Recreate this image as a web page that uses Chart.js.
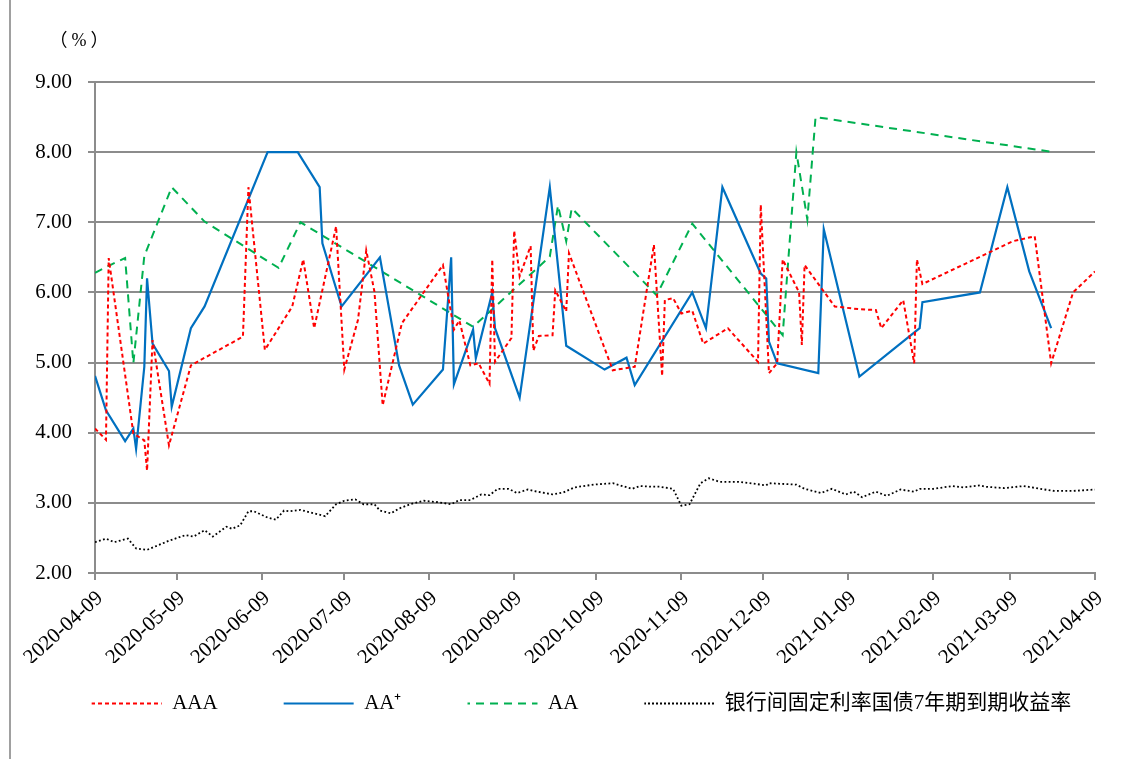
<!DOCTYPE html>
<html lang="zh-CN">
<head>
<meta charset="utf-8">
<title>信用债收益率</title>
<script src="https://cdn.jsdelivr.net/npm/chart.js"></script>
<style>
    body { margin: 0; background: #fff; }
    #wrap { position: relative; width: 1133px; height: 759px; }
    #wrap .frame { position: absolute; left: 9px; top: 0; width: 2px; height: 759px; background: #a0a0a0; }
    #yieldChart { position: absolute; left: 0; top: 0; }
</style>
</head>
<body>
<div id="wrap">
    <div class="frame"></div>
    <canvas id="yieldChart" width="1133" height="759"></canvas>
</div>
<script>
// x 轴刻度（日期）
const tickDates = ['2020-04-09', '2020-05-09', '2020-06-09', '2020-07-09', '2020-08-09', '2020-09-09', '2020-10-09',
    '2020-11-09', '2020-12-09', '2021-01-09', '2021-02-09', '2021-03-09', '2021-04-09'];
const unitText = '（%）';

// 各序列：距 2020-04-09 的天数 + 收益率(%)
const aaaDays = [0, 4, 5, 14, 18, 19, 21, 27, 35, 54, 56, 62, 72, 76, 80, 88, 91, 96, 99, 102,
    105, 112, 127, 131, 133, 137, 140, 144, 145, 146, 152, 153, 155, 159, 160, 162, 167, 168, 172, 173,
    189, 197, 204, 207, 208, 211, 214, 218, 222, 231, 242, 243, 246, 249, 251, 257, 258, 259, 270, 279,
    285, 287, 295, 299, 300, 302, 335, 343, 349, 357, 365];
const aaaValues = [4.06, 3.90, 6.49, 3.99, 3.89, 3.46, 5.32, 3.82, 4.96, 5.37, 7.50, 5.18, 5.80, 6.47, 5.49, 6.94, 4.90, 5.61, 6.60, 6.01,
    4.39, 5.56, 6.39, 5.47, 5.60, 4.96, 4.99, 4.70, 6.47, 5.01, 5.35, 6.88, 6.23, 6.66, 5.17, 5.38, 5.39, 6.03, 5.73, 6.56,
    4.89, 4.94, 6.68, 4.81, 5.89, 5.92, 5.70, 5.74, 5.27, 5.49, 5.01, 7.25, 4.85, 4.99, 6.47, 6.00, 5.25, 6.39, 5.80, 5.76,
    5.75, 5.49, 5.89, 4.99, 6.47, 6.12, 6.73, 6.80, 4.99, 6.00, 6.30];

const aaPlusDays = [0, 4, 11, 14, 15, 18, 19, 21, 27, 28, 35, 40, 63, 74, 82, 83, 90, 104, 111, 116,
    127, 130, 131, 138, 139, 145, 146, 155, 166, 172, 186, 194, 197, 218, 223, 229, 243, 245, 246, 249,
    264, 266, 279, 301, 302, 323, 333, 341, 349];
const aaPlusValues = [4.81, 4.32, 3.88, 4.06, 3.77, 4.94, 6.20, 5.27, 4.88, 4.37, 5.49, 5.80, 8.00, 8.00, 7.50, 6.70, 5.80, 6.50, 4.96, 4.40,
    4.90, 6.50, 4.69, 5.47, 5.06, 6.00, 5.49, 4.50, 7.50, 5.24, 4.90, 5.07, 4.68, 6.00, 5.49, 7.50, 6.27, 6.20, 5.30, 4.99,
    4.85, 6.90, 4.80, 5.49, 5.86, 6.00, 7.50, 6.30, 5.49];

const aaDays = [0, 5, 11, 14, 18, 28, 40, 67, 75, 138, 166, 169, 172, 174, 205, 218, 251, 256, 260, 263, 350];
const aaValues = [6.28, 6.38, 6.49, 4.99, 6.52, 7.50, 7.01, 6.35, 7.00, 5.51, 6.51, 7.24, 6.73, 7.20, 5.96, 6.98, 5.39, 8.00, 7.04, 8.50, 8.00];

const bondDays = [0, 4, 7, 12, 15, 19, 27, 33, 36, 40, 43, 48, 50, 53, 56, 58, 63, 66, 69, 71,
    75, 80, 84, 88, 91, 95, 98, 102, 104, 108, 111, 115, 120, 125, 130, 133, 137, 141, 144, 147,
    151, 154, 158, 160, 167, 171, 175, 182, 189, 196, 199, 203, 206, 211, 214, 217, 221, 224, 228, 235,
    245, 246, 256, 259, 265, 269, 274, 277, 280, 285, 289, 294, 299, 301, 306, 313, 317, 323, 325, 332,
    339, 345, 350, 357, 365];
const bondValues = [2.44, 2.49, 2.44, 2.49, 2.35, 2.33, 2.46, 2.54, 2.52, 2.61, 2.52, 2.66, 2.63, 2.68, 2.88, 2.88, 2.79, 2.76, 2.89, 2.88,
    2.90, 2.85, 2.81, 2.98, 3.03, 3.05, 2.98, 2.98, 2.89, 2.85, 2.92, 2.98, 3.03, 3.01, 2.98, 3.04, 3.04, 3.12, 3.11, 3.20,
    3.20, 3.14, 3.19, 3.17, 3.12, 3.15, 3.22, 3.26, 3.28, 3.20, 3.24, 3.23, 3.23, 3.20, 2.96, 2.98, 3.28, 3.35, 3.30, 3.30,
    3.25, 3.28, 3.26, 3.20, 3.14, 3.20, 3.12, 3.16, 3.08, 3.16, 3.10, 3.19, 3.16, 3.20, 3.20, 3.24, 3.22, 3.25, 3.23, 3.21,
    3.24, 3.20, 3.17, 3.17, 3.19];

const DAY = 86400000;
const tickDays = tickDates.map(d => Math.round((Date.parse(d) - Date.parse(tickDates[0])) / DAY));

function toPoints(days, values) {
    return days.map((d, i) => ({ x: d, y: values[i] }));
}

// 图例的线样用横向重复的图案来显示虚线
function dashPattern(color, dash) {
    const on = Math.max(1, Math.round(dash[0]));
    const off = Math.max(1, Math.round(dash[1]));
    const c = document.createElement('canvas');
    c.width = on + off;
    c.height = 1;
    const g = c.getContext('2d');
    g.fillStyle = color;
    g.fillRect(0, 0, on, 1);
    return g.createPattern(c, 'repeat');
}

const fontFamily = "'Liberation Serif', 'Times New Roman', 'Noto Sans CJK SC', serif";
const gridColor = '#8c8c8c';

// 左上角单位
const unitLabel = {
    id: 'unitLabel',
    afterDraw(chart) {
        const { ctx, chartArea } = chart;
        ctx.save();
        ctx.font = "18px 'Liberation Serif', 'Noto Sans CJK SC', serif";
        ctx.letterSpacing = '4px';
        ctx.fillStyle = '#000';
        ctx.textAlign = 'center';
        ctx.textBaseline = 'middle';
        ctx.fillText(unitText, chartArea.left - 14, chartArea.top - 41);
        ctx.restore();
    }
};

// 图例上移并略向右，紧跟在日期标签下方
const legendShift = {
    id: 'legendShift',
    afterLayout(chart) {
        const lg = chart.legend;
        lg.top -= 36;
        lg.bottom -= 36;
        lg.left += 15;
        lg.right += 15;
    }
};

document.addEventListener('DOMContentLoaded', function() {
    const ctx = document.getElementById('yieldChart');

    if (ctx) {
        const chart = new Chart(ctx, {
            type: 'line',
            data: {
                datasets: [
                    {
                        label: 'AAA',
                        data: toPoints(aaaDays, aaaValues),
                        borderColor: '#ff0000',
                        borderWidth: 2,
                        borderDash: [4, 3]
                    },
                    {
                        label: 'AA⁺',
                        data: toPoints(aaPlusDays, aaPlusValues),
                        borderColor: '#0070c0',
                        borderWidth: 2.2
                    },
                    {
                        label: 'AA',
                        data: toPoints(aaDays, aaValues),
                        borderColor: '#00b050',
                        borderWidth: 2,
                        borderDash: [8, 6]
                    },
                    {
                        label: '银行间固定利率国债7年期到期收益率',
                        data: toPoints(bondDays, bondValues),
                        borderColor: '#000',
                        borderWidth: 1.8,
                        borderDash: [1.8, 2.4]
                    }
                ]
            },
            options: {
                responsive: false,
                animation: false,
                devicePixelRatio: 1,
                layout: {
                    padding: { top: 82, left: 0, right: 0, bottom: 0 }
                },
                elements: {
                    point: { radius: 0 },
                    line: { tension: 0, fill: false }
                },
                scales: {
                    x: {
                        type: 'linear',
                        min: 0,
                        max: 365,
                        afterBuildTicks: function(scale) {
                            scale.ticks = tickDays.map(v => ({ value: v }));
                        },
                        afterFit: function(scale) {
                            scale.height = 90;
                            scale.paddingLeft = 0;
                            scale.paddingRight = 0;
                        },
                        ticks: {
                            autoSkip: false,
                            minRotation: 42,
                            maxRotation: 42,
                            padding: 6,
                            labelOffset: 5,
                            color: '#000',
                            font: { family: fontFamily, size: 21 },
                            callback: function(value) {
                                return tickDates[tickDays.indexOf(value)];
                            }
                        },
                        grid: {
                            drawOnChartArea: false,
                            tickLength: 7,
                            color: gridColor,
                            lineWidth: 2
                        },
                        border: { color: gridColor, width: 2 }
                    },
                    y: {
                        min: 2,
                        max: 9,
                        afterFit: function(scale) {
                            scale.width = 95;
                            scale.paddingTop = 0;
                            scale.paddingBottom = 0;
                        },
                        ticks: {
                            stepSize: 1,
                            padding: 16,
                            color: '#000',
                            font: { family: fontFamily, size: 21 },
                            callback: function(value) {
                                return value.toFixed(2);
                            }
                        },
                        grid: {
                            color: gridColor,
                            lineWidth: 2,
                            tickLength: 7
                        },
                        border: { color: gridColor, width: 2 }
                    },
                    // 右侧留白
                    yRight: {
                        position: 'right',
                        grid: { display: false, drawTicks: false },
                        ticks: { display: false },
                        border: { display: false },
                        afterFit: function(scale) {
                            scale.width = 38;
                        }
                    }
                },
                plugins: {
                    legend: {
                        position: 'bottom',
                        align: 'center',
                        maxHeight: 96,
                        labels: {
                            usePointStyle: true,
                            pointStyle: 'line',
                            pointStyleWidth: 70,
                            padding: 66,
                            color: '#000',
                            font: { family: fontFamily, size: 21 },
                            generateLabels: function(chart) {
                                const items = Chart.defaults.plugins.legend.labels.generateLabels(chart);
                                items.forEach(item => {
                                    const ds = chart.data.datasets[item.datasetIndex];
                                    if (ds.borderDash) {
                                        item.strokeStyle = dashPattern(ds.borderColor, ds.borderDash);
                                    }
                                });
                                return items;
                            }
                        }
                    },
                    tooltip: { enabled: false }
                }
            },
            plugins: [unitLabel, legendShift]
        });
    }
});
</script>
</body>
</html>
